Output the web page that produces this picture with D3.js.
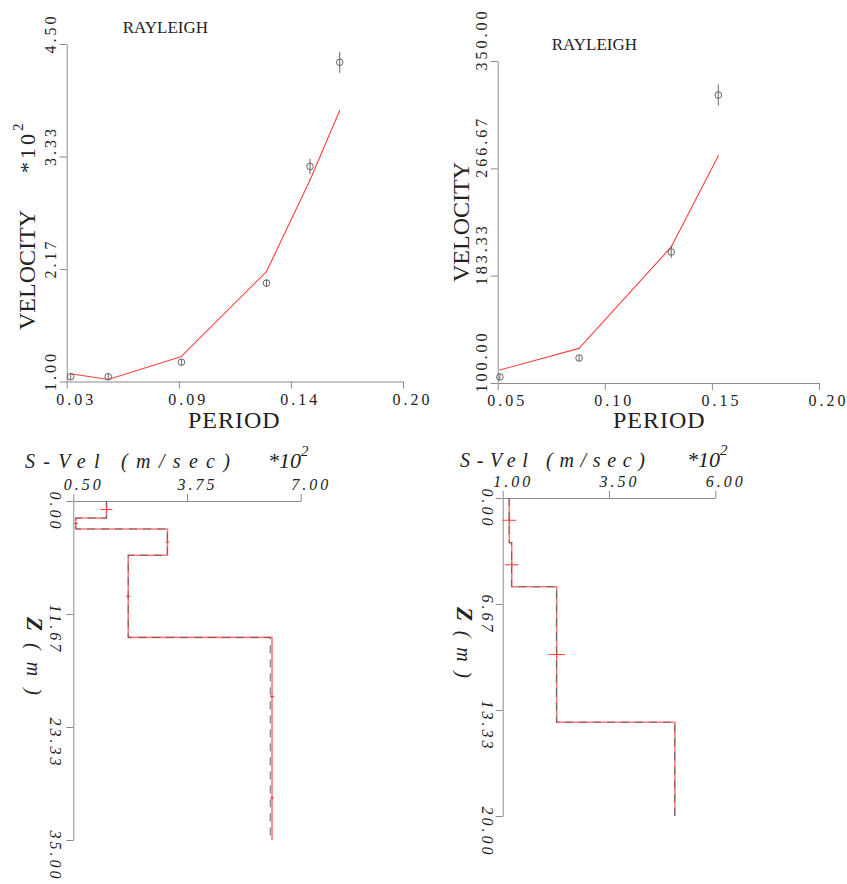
<!DOCTYPE html>
<html>
<head>
<meta charset="utf-8">
<script src="https://cdn.jsdelivr.net/npm/d3@7"></script>
<style>
  body { margin: 0; background: #fff; }
  svg { display: block; }
  text { font-family: "Liberation Serif", "Times New Roman", serif; fill: #222; }
</style>
</head>
<body>
<div id="chart"></div>
<script>
/* Rayleigh dispersion fits (top) and inverted S-velocity profiles (bottom) */

// top left: period (s) vs velocity (*10^2 m/s)
const tlPeriod = [0.032, 0.051, 0.088, 0.131, 0.153, 0.168];
const tlObs    = [1.05, 1.05, 1.20, 2.02, 3.23, 4.31];
const tlErr    = [0.03, 0.03, 0.03, 0.04, 0.08, 0.11];
const tlModel  = [1.08, 1.02, 1.26, 2.14, 3.09, 3.81];
const tlXTicks = [0.03, 0.0867, 0.1433, 0.20], tlXLabels = ["0.03", "0.09", "0.14", "0.20"];
const tlYTicks = [1.00, 2.1667, 3.3333, 4.50], tlYLabels = ["1.00", "2.17", "3.33", "4.50"];

// top right: period (s) vs velocity (m/s)
const trPeriod = [0.051, 0.088, 0.131, 0.153];
const trObs    = [104.7, 119.4, 201.7, 323.6];
const trErr    = [2.3, 2.3, 4.7, 8.2];
const trModel  = [110.1, 126.9, 205.6, 276.5];
const trXTicks = [0.05, 0.10, 0.15, 0.20], trXLabels = ["0.05", "0.10", "0.15", "0.20"];
const trYTicks = [100, 183.333, 266.667, 350], trYLabels = ["100.00", "183.33", "266.67", "350.00"];

// bottom left: layered model, depth (m) and S velocity (*10^2 m/s)
const blDepth    = [0, 1.76, 2.89, 5.6, 14.08, 26.3, 35];
const blVel      = [1.45, 0.57, 3.19, 2.07, 6.18, 6.18];
const blVelStart = [1.45, 0.57, 3.19, 2.07, 6.13, 6.13];
const blCrossZ   = [0.88, 2.32, 4.24, 9.84, 20.2, 30.65];
const blCrossV   = [1.45, 0.57, 3.19, 2.07, 6.18, 6.18];
const blCrossDv  = [0.17, 0.06, 0.05, 0.06, 0.06, 0.05];
const blCrossDz  = [0.34, 0.15, 0.15, 0.15, 0.15, 0.15];
const blXTicks = [0.5, 3.75, 7.0], blXLabels = ["0.50", "3.75", "7.00"];
const blZTicks = [0, 11.667, 23.333, 35], blZLabels = ["0.00", "11.67", "23.33", "35.00"];

// bottom right
const brDepth    = [0, 2.81, 5.58, 14.1, 20];
const brVel      = [1.155, 1.212, 2.27, 5.05];
const brVelStart = [1.15, 1.21, 2.265, 5.045];
const brCrossZ   = [1.40, 4.20, 9.84];
const brCrossV   = [1.155, 1.212, 2.27];
const brCrossDv  = [0.165, 0.165, 0.195];
const brCrossDz  = [0.2, 0.2, 0.2];
const brXTicks = [1, 3.5, 6], brXLabels = ["1.00", "3.50", "6.00"];
const brZTicks = [0, 6.667, 13.333, 20], brZLabels = ["0.00", "6.67", "13.33", "20.00"];

const axisColor = "#8c8c8c";
const red = "#ff4040";

const svg = d3.select("#chart")
    .append("svg")
    .attr("width", 847)
    .attr("height", 884);

function cleanAxis(g) {
    g.attr("font-family", null).attr("font-size", null);
    g.select(".domain").attr("stroke", axisColor);
    g.selectAll(".tick line").attr("stroke", axisColor);
    g.selectAll(".tick text")
        .attr("fill", "#333")
        .attr("dy", null)
        .attr("text-anchor", "start")
        .style("font-size", "16px")
        .style("letter-spacing", "3px");
}

/* upper panels: observed points with error bars and model curve */
function dispersion(p) {
    const x = d3.scaleLinear().domain([p.xTicks[0], p.xTicks[p.xTicks.length - 1]]).range(p.xRange);
    const y = d3.scaleLinear().domain([p.yTicks[0], p.yTicks[p.yTicks.length - 1]]).range(p.yRange);

    svg.append("g")
        .attr("transform", `translate(0,${p.yRange[0]})`)
        .call(d3.axisBottom(x).tickValues(p.xTicks).tickFormat((d, i) => p.xLabels[i]).tickSize(7).tickSizeOuter(0))
        .call(cleanAxis)
        .call(g => g.selectAll(".tick text").attr("x", -11).attr("y", 23));

    svg.append("g")
        .attr("transform", `translate(${p.xRange[0]},0)`)
        .call(d3.axisLeft(y).tickValues(p.yTicks).tickFormat((d, i) => p.yLabels[i]).tickSize(7).tickSizeOuter(0))
        .call(cleanAxis)
        .call(g => g.selectAll(".tick text").attr("x", 0).attr("y", 0)
            .attr("transform", "translate(-11,9) rotate(-90)"));

    // model curve, one segment per pair of periods
    const segs = p.period.slice(1).map((t, i) => [[p.period[i], p.model[i]], [t, p.model[i + 1]]]);
    svg.append("g").selectAll("line")
        .data(segs)
        .join("line")
        .attr("x1", d => x(d[0][0])).attr("y1", d => y(d[0][1]))
        .attr("x2", d => x(d[1][0])).attr("y2", d => y(d[1][1]))
        .attr("stroke", red)
        .attr("stroke-width", 1.1)
        .attr("stroke-linecap", "round");

    const pts = svg.append("g").selectAll("g")
        .data(p.period.map((t, i) => ({ t: t, v: p.obs[i], e: p.err[i] })))
        .join("g");

    pts.append("line")
        .attr("x1", d => x(d.t)).attr("x2", d => x(d.t))
        .attr("y1", d => y(d.v - d.e)).attr("y2", d => y(d.v + d.e))
        .attr("stroke", "#555").attr("stroke-width", 0.9);

    pts.append("circle")
        .attr("cx", d => x(d.t)).attr("cy", d => y(d.v))
        .attr("r", 3.3)
        .attr("fill", "none")
        .attr("stroke", "#555").attr("stroke-width", 0.9);

    svg.append("text")
        .attr("x", p.title[0]).attr("y", p.title[1])
        .style("font-size", "17px")
        .text("RAYLEIGH");

    svg.append("text")
        .attr("x", p.period_lab[0]).attr("y", p.period_lab[1])
        .style("font-size", "24px")
        .style("letter-spacing", "1px")
        .text("PERIOD");

    svg.append("text")
        .attr("transform", `translate(${p.vel_lab[0]},${p.vel_lab[1]}) rotate(-90)`)
        .style("font-size", "24px")
        .text("VELOCITY");
}

/* lower panels: step profiles of the layered model */
function profile(p) {
    const x = d3.scaleLinear().domain([p.xTicks[0], p.xTicks[p.xTicks.length - 1]]).range(p.xRange);
    const z = d3.scaleLinear().domain([p.zTicks[0], p.zTicks[p.zTicks.length - 1]]).range(p.zRange);

    svg.append("g")
        .attr("transform", `translate(0,${p.zRange[0]})`)
        .call(d3.axisTop(x).tickValues(p.xTicks).tickFormat((d, i) => p.xLabels[i]).tickSize(7).tickSizeOuter(0))
        .call(cleanAxis)
        .call(g => g.selectAll(".tick text").attr("x", -10).attr("y", -11).style("font-style", "italic"));

    svg.append("g")
        .attr("transform", `translate(${p.xRange[0]},0)`)
        .call(d3.axisLeft(z).tickValues(p.zTicks).tickFormat((d, i) => p.zLabels[i]).tickSize(7).tickSizeOuter(0))
        .call(cleanAxis)
        .call(g => g.selectAll(".tick text").attr("x", 0).attr("y", 0)
            .style("font-style", "italic")
            .attr("transform", `translate(${p.zLabOff},-10) rotate(90)`));

    const steps = vel => vel.flatMap((v, i) => [[v, p.depth[i]], [v, p.depth[i + 1]]]);
    const line = d3.line().x(d => x(d[0])).y(d => z(d[1]));

    svg.append("path")
        .attr("d", line(steps(p.vel)))
        .attr("fill", "none")
        .attr("stroke", "#ff7b7b")
        .attr("stroke-width", 1.6);

    svg.append("path")
        .attr("d", line(steps(p.velStart)))
        .attr("fill", "none")
        .attr("stroke", "#5a5a5a")
        .attr("stroke-width", 0.9)
        .attr("stroke-dasharray", "8,6");

    const cr = svg.append("g").selectAll("g")
        .data(p.crossZ.map((d, i) => ({ z: d, v: p.crossV[i], dv: p.crossDv[i], dz: p.crossDz[i] })))
        .join("g")
        .attr("stroke", red).attr("stroke-width", 1);
    cr.append("line")
        .attr("x1", d => x(d.v - d.dv)).attr("x2", d => x(d.v + d.dv))
        .attr("y1", d => z(d.z)).attr("y2", d => z(d.z));
    cr.append("line")
        .attr("x1", d => x(d.v)).attr("x2", d => x(d.v))
        .attr("y1", d => z(d.z - d.dz)).attr("y2", d => z(d.z + d.dz));

    svg.append("text")
        .attr("x", p.title[0]).attr("y", p.title[1])
        .style("font-size", "20px").style("font-style", "italic")
        .attr("textLength", p.title[2]).attr("lengthAdjust", "spacing")
        .text("S-Vel (m/sec)");

    const m = svg.append("text")
        .attr("x", p.mult[0]).attr("y", p.title[1])
        .style("font-size", "22px").style("font-style", "italic");
    m.append("tspan").text("*10");
    m.append("tspan").attr("dy", -12).style("font-size", "15px").text("2");

    const zl = svg.append("text")
        .attr("transform", `translate(${p.zLab[0]},${p.zLab[1]}) rotate(90)`)
        .style("font-style", "italic")
        .attr("textLength", p.zLab[2]).attr("lengthAdjust", "spacing");
    zl.append("tspan").style("font-size", "23px").style("font-weight", "bold").text("Z");
    zl.append("tspan").style("font-size", "20px").text(" ( m )");
}

dispersion({
    period: tlPeriod, obs: tlObs, err: tlErr, model: tlModel,
    xTicks: tlXTicks, xLabels: tlXLabels, yTicks: tlYTicks, yLabels: tlYLabels,
    xRange: [66.7, 403], yRange: [381.5, 44],
    title: [122.7, 33.3], period_lab: [188, 428], vel_lab: [35, 330]
});

// multiplier on the left velocity axis
const mul = svg.append("text")
    .attr("transform", "translate(35,173) rotate(-90)")
    .style("font-size", "22px")
    .style("letter-spacing", "3px");
mul.append("tspan").text("*10");
mul.append("tspan").attr("dy", -12).style("font-size", "15px").text("2");

dispersion({
    period: trPeriod, obs: trObs, err: trErr, model: trModel,
    xTicks: trXTicks, xLabels: trXLabels, yTicks: trYTicks, yLabels: trYLabels,
    xRange: [497.7, 819], yRange: [383, 61],
    title: [551.7, 50], period_lab: [613, 428], vel_lab: [469.3, 282]
});

profile({
    depth: blDepth, vel: blVel, velStart: blVelStart,
    crossZ: blCrossZ, crossV: blCrossV, crossDv: blCrossDv, crossDz: blCrossDz,
    xTicks: blXTicks, xLabels: blXLabels, zTicks: blZTicks, zLabels: blZLabels,
    xRange: [73.3, 300.7], zRange: [501, 840], zLabOff: -23,
    title: [25, 468, 205], mult: [268], zLab: [27, 617, 78]
});

profile({
    depth: brDepth, vel: brVel, velStart: brVelStart,
    crossZ: brCrossZ, crossV: brCrossV, crossDv: brCrossDv, crossDz: brCrossDz,
    xTicks: brXTicks, xLabels: brXLabels, zTicks: brZTicks, zLabels: brZLabels,
    xRange: [502.7, 715.3], zRange: [498, 816], zLabOff: -21,
    title: [460, 467, 185], mult: [687], zLab: [456.7, 607, 71]
});
</script>
</body>
</html>
